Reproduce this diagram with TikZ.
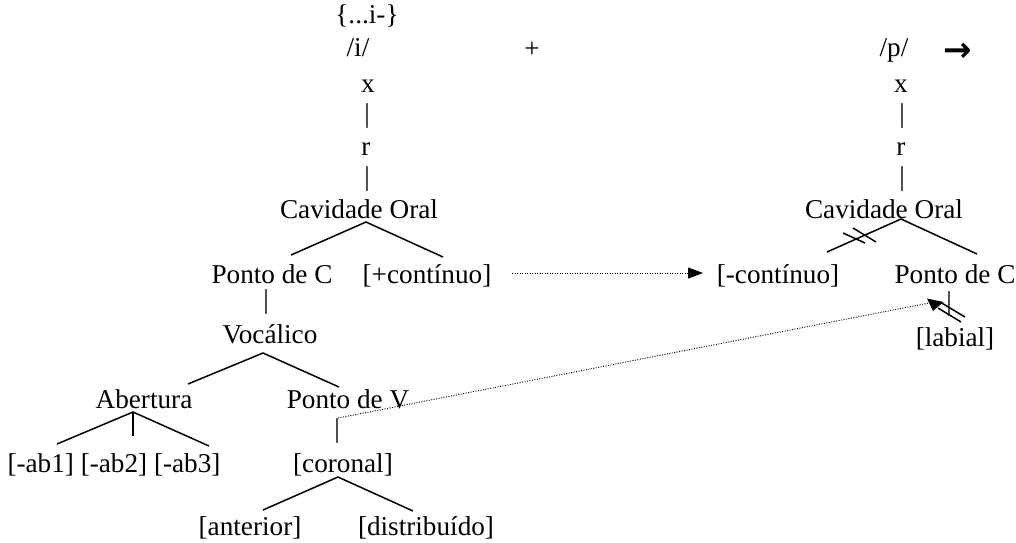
\documentclass[tikz,border=0pt]{standalone}
\usepackage{fontspec}
\setmainfont{Liberation Serif}
\newfontfamily\symfont{DejaVu Sans}
\usetikzlibrary{arrows.meta}
\begin{document}
\begin{tikzpicture}[x=1pt,y=-1pt,
  lbl/.style={anchor=base,inner sep=0pt,font=\fontsize{27.2}{30}\selectfont},
  branch/.style={line width=1.5pt},
  spread/.style={line width=0.9pt, dash pattern=on 1pt off 1.5pt},
  cutmark/.style={line width=1.5pt}]
\useasboundingbox (0,0) rectangle (1016,542);
% left tree
\node[lbl] (brace) at (367,23) {\{...i-\}};
\node[lbl] (i) at (358,56) {/i/};
\node[lbl] (xL) at (368,92) {x};
\node[lbl] (b1L) at (367,122) {|};
\node[lbl] (rL) at (366,155) {r};
\node[lbl] (b2L) at (367,185) {|};
\node[lbl] (cavL) at (359,218) {Cavidade Oral};
\node[lbl] (pcL) at (272,283) {Ponto de C};
\node[lbl] (contP) at (427,283) {[+contínuo]};
\node[lbl] (b3L) at (266,308) {|};
\node[lbl] (voc) at (270,343) {Vocálico};
\node[lbl] (abe) at (144,408) {Abertura};
\node[lbl] (pv) at (348,408) {Ponto de V};
\node[lbl] (b4L) at (337,437) {|};
\node[lbl] (ab) at (114,472) {[-ab1] [-ab2] [-ab3]};
\node[lbl] (cor) at (343,472) {[coronal]};
\node[lbl] (ant) at (250,535) {[anterior]};
\node[lbl] (dis) at (426,535) {[distribuído]};
% right tree
\node[lbl] (plus) at (532,57) {+};
\node[lbl] (p) at (894,56) {/p/};
\node[lbl] (arr) at (958,61) {\fontsize{34}{36}\selectfont\symfont\bfseries →};
\node[lbl] (xR) at (901,92) {x};
\node[lbl] (b1R) at (902,122) {|};
\node[lbl] (rR) at (901,155) {r};
\node[lbl] (b2R) at (902,185) {|};
\node[lbl] (cavR) at (884,218) {Cavidade Oral};
\node[lbl] (contM) at (778,283) {[-contínuo]};
\node[lbl] (pcR) at (955,283) {Ponto de C};
\node[lbl] (b3R) at (949,310) {|};
\node[lbl] (lab) at (955,346) {[labial]};
% branch points
\coordinate (cavLa) at (366,222); \coordinate (cavLl) at (291,255); \coordinate (cavLr) at (443,257);
\coordinate (voca) at (263,353); \coordinate (vocl) at (188,384); \coordinate (vocr) at (339,387);
\coordinate (abea) at (133,412); \coordinate (abel) at (57,444); \coordinate (abem) at (133,436); \coordinate (aber) at (209,446);
\coordinate (cora) at (338,477); \coordinate (corl) at (263,510); \coordinate (corr) at (413,511);
\coordinate (cavRa) at (901,219); \coordinate (cavRl) at (827,252); \coordinate (cavRr) at (977,254);
\draw[branch] (cavLl) -- (cavLa) -- (cavLr);
\draw[branch] (vocl) -- (voca) -- (vocr);
\draw[branch] (abel) -- (abea) -- (aber);
\draw[branch] (abea) -- (abem);
\draw[branch] (corl) -- (cora) -- (corr);
\draw[branch] (cavRl) -- (cavRa) -- (cavRr);
% delinking marks
\coordinate (d1a) at (843,233); \coordinate (d1b) at (865,243);
\coordinate (d2a) at (853,228); \coordinate (d2b) at (876,242);
\draw[cutmark] (d1a) -- (d1b);
\draw[cutmark] (d2a) -- (d2b);
\coordinate (d3a) at (940,302); \coordinate (d3b) at (965,317);
\coordinate (d4a) at (938,308); \coordinate (d4b) at (961,322);
\draw[cutmark] (d3a) -- (d3b);
\draw[cutmark] (d4a) -- (d4b);
% spreading arrows
\coordinate (h1) at (512,273); \coordinate (h2) at (703,273);
\draw[spread,-{Triangle[length=15pt,width=11pt]}] (h1) -- (h2);
\coordinate (g1) at (338,418); \coordinate (g2) at (929,303);
\draw[spread] (g1) -- (g2);
\coordinate (t1) at (927,298.5); \coordinate (t2) at (933,311); \coordinate (t3) at (943.5,302);
\fill (t1) -- (t2) -- (t3) -- cycle;
\end{tikzpicture}
\end{document}
